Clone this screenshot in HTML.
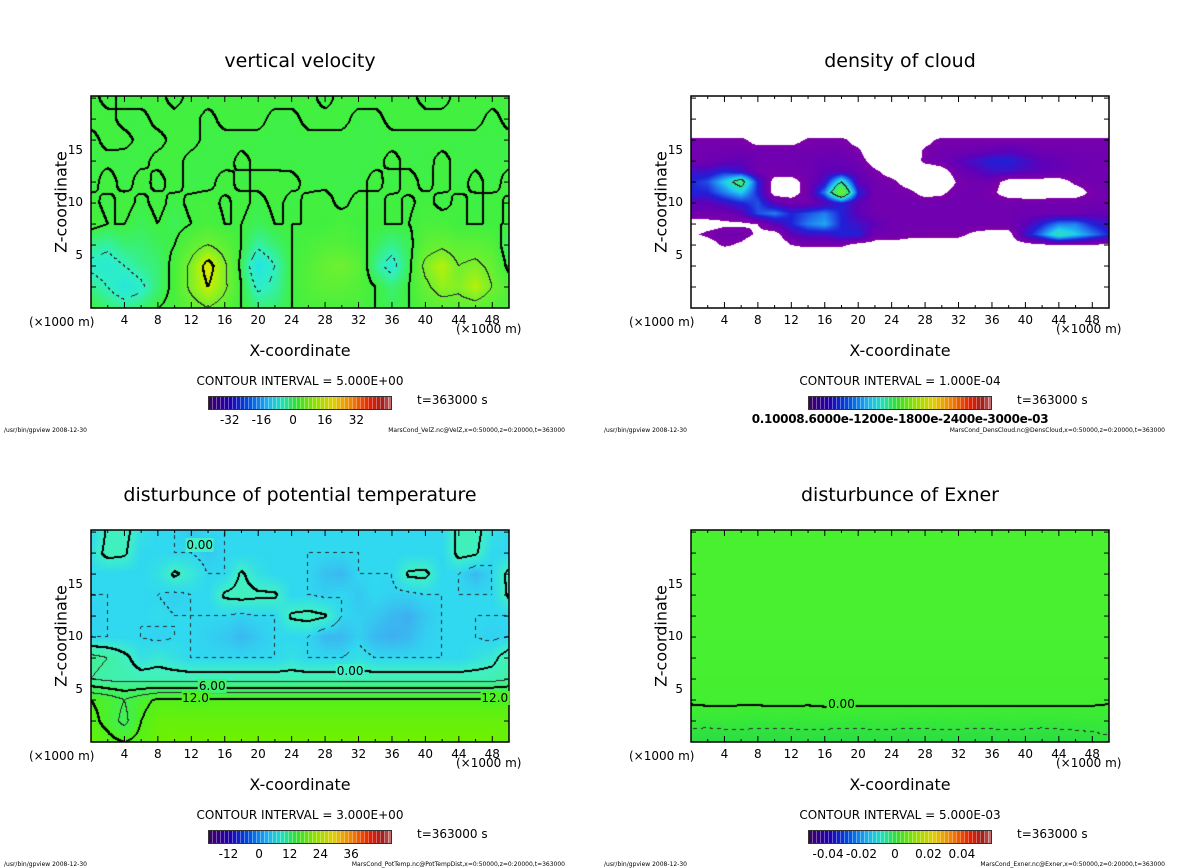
<!DOCTYPE html>
<html><head><meta charset="utf-8">
<style>
body{margin:0;background:#fff;}
#root{position:relative;width:1200px;height:868px;overflow:hidden;background:#fff;font-family:"DejaVu Sans","Liberation Sans",sans-serif;color:#000;}
.t{position:absolute;white-space:nowrap;}
.title{font-size:19px;transform:translateX(-50%);}
.ylab{font-size:16px;transform:translate(-50%,-50%) rotate(-90deg);}
.xlab{font-size:16px;transform:translateX(-50%);}
.tick{font-size:12px;}
.ci{font-size:12px;transform:translateX(-50%);}
.foot{font-size:6px;}
.clab{font-size:12px;background:transparent;}
canvas,svg{position:absolute;}
</style></head>
<body>
<div id="root"></div>
<script>
// ---------- data ----------
const xGrid = [0,2,4,6,8,10,12,14,16,18,20,22,24,26,28,30,32,34,36,38,40,42,44,46,48,50];
const zGrid2 = [0,2,4,6,8,10,12,14,16,18,20];
const zGrid1 = [0,1,2,3,4,5,6,7,8,9,10,11,12,13,14,15,16,17,18,19,20];
const xTicks = [4,8,12,16,20,24,28,32,36,40,44,48];
const zTicks = [5,10,15];

// vertical velocity rows (z = 0,2,...,20)
const velZ = [
 [0,-2,-3,-2,0,1,3,5,3,0,-2,-2,0,1,1,1,1,0,-1,0,2,3,3,3,2,1],
 [-3,-5,-8,-6,-2,1,6,10,6,0,-6,-4,0,2,3,3,2,0,-2,0,4,7,6,9,5,2],
 [-6,-7,-5,-3,-2,1,6,12,6,-1,-9,-5,0,2,4,5,3,-3,-7,-1,6,9,5,6,4,-1],
 [-3,-4,-2,-2,-1,0,3,5,3,0,-4,-2,0,1,2,2,1,-1,-3,-1,3,4,3,3,2,-2],
 [1,0,0,-1,0,-1,0,1,0,0,-1,0,0,0,0,1,0,0,0,0,1,1,0,0,0,0],
 [0.5,-0.5,0.6,-0.4,0.5,-0.5,0.4,0.6,-0.3,0.5,-0.5,0.4,-0.4,0.3,0.5,-0.4,0.5,-0.5,0.4,-0.3,0.5,-0.5,0.4,-0.4,0.5,-0.3],
 [-0.5,0.6,-0.5,0.5,-0.4,0.5,-0.5,-0.4,0.5,-0.4,0.4,0.4,0.3,-0.3,-0.3,-0.4,-0.4,0.4,-0.5,0.5,-0.4,0.5,-0.5,0.4,-0.5,0.5],
 [-0.3,-0.3,-0.4,-0.3,0.3,0.3,-0.3,-0.3,-0.4,0.3,-0.3,-0.3,-0.3,-0.3,-0.3,-0.3,-0.3,-0.3,0.3,-0.3,-0.3,0.3,-0.3,-0.3,-0.3,-0.3],
 [-0.3,0.3,0.3,-0.3,-0.3,0.3,0.3,-0.3,-0.3,-0.3,-0.3,-0.3,-0.3,-0.3,-0.3,-0.3,-0.3,-0.3,-0.3,-0.3,-0.3,-0.3,-0.3,-0.3,-0.3,-0.3],
 [0.3,0.3,-0.3,-0.3,0.3,0.3,0.3,-0.3,0.3,0.3,0.3,-0.3,-0.3,0.3,0.3,0.3,-0.3,-0.3,0.3,0.3,0.3,0.3,0.3,0.3,-0.3,0.3],
 [0.3,-0.3,0.3,0.3,0.3,-0.3,0.3,0.3,0.3,0.3,0.3,0.3,0.3,0.3,-0.3,0.3,0.3,0.3,0.3,0.3,-0.3,-0.3,0.3,0.3,0.3,0.3]
];

// cloud density (units 1e-4), rows z = 0..20 step 1
const densCloud = [
 Array(26).fill(0),Array(26).fill(0),Array(26).fill(0),Array(26).fill(0),Array(26).fill(0),Array(26).fill(0),
 [0,0.5,1.2,0.8,0,0,1,1.3,1.2,1.2,0.6,0.6,0.6,0.5,0.5,0.5,0.5,0.5,0.5,0.5,0.6,0.8,0.9,0.9,0.9,0.8],
 [0.8,1.2,1.5,1.5,0.8,0.5,2,2.5,2.5,3,3,1.5,1.5,1.3,1.2,1.2,1.2,0.8,0.6,0.6,2.5,4,6,5,4,3],
 [0.5,0.6,0.8,0.8,1,2,3,4,4.5,3,2.5,2,1.5,1.5,1.5,1.5,1.5,1.5,1.5,1.5,2,3,4,4,3,2.5],
 [1.5,1.5,1.5,2,3.5,4,3,3.5,4,3,2,1.5,1.5,1.5,1.5,1.5,1.5,1.5,1.5,1.5,1.6,1.6,1.6,1.6,1.8,1.8],
 [2,2,2.5,3,3.5,2,1.5,1.5,2,3,2,1.5,1.5,1.5,1.5,1.5,1.5,1.5,1.5,1.5,1.5,1.5,1.5,1.5,1.5,1.5],
 [3,3,4,5,3,0.5,0.5,1.5,4,9,3,1.5,1.5,1.3,0.6,0.8,1.5,1.5,1.2,0.5,0.3,0.3,0.5,0.5,1.2,1.5],
 [3,3.5,5,7,3,0.5,0.5,1.5,2.5,6,2,1.5,1.3,0.5,0,0,1.2,1.5,1.5,0.5,0.5,0.5,0.5,1.2,1.5,1.5],
 [2.5,2.5,3,2.5,1.5,1.5,1.5,1.5,2,2,1.8,1.2,0.5,0,0,0.5,1.6,2,2.5,2.5,2.2,2,1.8,1.6,1.5,1.5],
 [1.5,1.5,1.8,2,1.5,1.5,1.5,1.6,1.8,1.8,1.5,0.5,0,0,1.3,1.6,2,2.5,3,3,2.5,2,1.8,1.6,1.5,1.5],
 [1.5,1.5,1.5,1.5,1.5,1.5,1.5,1.5,1.5,1.5,1.2,0,0,0,1.2,1.5,1.5,1.6,1.8,2,1.8,1.5,1.5,1.5,1.5,1.5],
 [1.3,1.3,1.3,1.3,0.5,0.5,0.5,1.2,1.3,1.3,0.5,0,0,0,0.6,1.3,1.3,1.3,1.3,1.3,1.3,1.3,1.3,1.3,1.3,1.3],
 Array(26).fill(0),Array(26).fill(0),Array(26).fill(0),Array(26).fill(0)
];

// potential temperature disturbance rows (z = 0,2,...,20)
const potTemp = [
 [14,13,12,13,14.5,15,15,15,15,15,15,15,15,15,15,15,15,15,15,15,15,15,15,15,15,14],
 [13,11,8,12,14,14,14,14,14,14,14,14,14,14,14,14,14,14,14,14,14,14,14,14,14,14],
 [12,11,9,11,12.5,12.5,12.5,12.5,12.5,12.5,12.5,12.5,12.5,12.5,12.5,12.5,12.5,12.5,12.5,12.5,12.5,12.5,12.5,12.5,12.5,12.5],
 [3,2,2,1.5,1.5,1.5,1.5,1.5,1.5,1.5,1.5,1.5,1.5,1.5,1.5,1.5,1.5,1.5,1.5,1.5,1.5,1.5,1.5,1.5,1.5,2.5],
 [4,3,1,-2,-1,-2,-3,-3,-3,-3,-3,-3,-2,-3,-3,-3,-2,-3,-3,-3,-3,-3,-3,-2,-1,2],
 [-3,-3,-3,-3,-3.5,-3,-3,-3.5,-4,-5,-4,-3,-3,-3,-5,-5,-3.5,-5,-5.5,-5,-3.5,-3,-3,-3,-3.5,-3],
 [-3.5,-3,-3,-3,-2.5,-3,-3,-3,-3,-3.5,-3,-3,0.5,1,0.3,-3,-3.5,-4,-5,-5.5,-4,-3,-3,-3,-3,-3],
 [-3,-3,-3,-3,-3,-3.5,-3,-3,0.5,1,0.5,0.5,-3,-3,-3.5,-3,-4,-3,-3.5,-3.5,-3,-3,-3,-3,-3,0.5],
 [-3,-3,-3,-3,-2,0.5,-1,-3,-3,0.5,-2,-3,-3,-3,-4.5,-5,-3,-3,-3,0.5,0.8,-3,-3,-5,-3,1],
 [-2,1,0.5,-3,-3,-3,-3,-4,-3,-3,-3,-3,-3,-3,-3,-3,-3,-3,-3,-3,-3,-3,1,0.5,-3,-3],
 [-3,0.5,1,-2,-3,-3,-4,-3,-3,-3,-3,-3,-3,-3,-3,-3,-3,-3,-3,-3,-3,-3,1,1,-2,-3]
];

// Exner disturbance rows (z = 0,2,...,20)
const exner = [
 [-0.008,-0.0085,-0.008,-0.0075,-0.008,-0.0085,-0.008,-0.0075,-0.008,-0.0085,-0.008,-0.0075,-0.008,-0.0085,-0.008,-0.0075,-0.008,-0.0085,-0.008,-0.0075,-0.008,-0.0085,-0.008,-0.0075,-0.007,-0.006],
 [-0.003,-0.0032,-0.0028,-0.003,-0.0033,-0.0029,-0.003,-0.0032,-0.0028,-0.003,-0.0033,-0.003,-0.0028,-0.0031,-0.003,-0.0032,-0.0029,-0.003,-0.0031,-0.0029,-0.003,-0.0031,-0.003,-0.0029,-0.0027,-0.0025],
 [0.0008,0.0012,0.0012,0.0010,0.0011,0.0012,0.0012,0.0011,0.0013,0.0012,0.0012,0.0011,0.0012,0.0012,0.0013,0.0012,0.0012,0.0013,0.0012,0.0012,0.0011,0.0012,0.0012,0.0011,0.0010,0.0006],
 Array(26).fill(0.002),Array(26).fill(0.0025),Array(26).fill(0.0028),Array(26).fill(0.003),
 Array(26).fill(0.003),Array(26).fill(0.0032),Array(26).fill(0.0033),Array(26).fill(0.0034)
];

const cbLabels1 = ["-32","-16","0","16","32"];
const cbValues1 = [-32,-16,0,16,32];
const cbLabels3 = ["-12","0","12","24","36"];
const cbValues3 = [-12,0,12,24,36];
const cbLabels4 = ["-0.04","-0.02","0","0.02","0.04"];
const cbValues4 = [-0.04,-0.02,0,0.02,0.04];

// ---------- helpers ----------
const root = document.getElementById('root');
function hex(h){return [parseInt(h.substr(1,2),16),parseInt(h.substr(3,2),16),parseInt(h.substr(5,2),16)];}
function cmap(stops,v){
  if(v<=stops[0][0]) return hex(stops[0][1]);
  for(let i=1;i<stops.length;i++){
    if(v<=stops[i][0]){
      const a=hex(stops[i-1][1]),b=hex(stops[i][1]);
      const t=(v-stops[i-1][0])/(stops[i][0]-stops[i-1][0]);
      return [a[0]+(b[0]-a[0])*t,a[1]+(b[1]-a[1])*t,a[2]+(b[2]-a[2])*t];
    }
  }
  return hex(stops[stops.length-1][1]);
}
function text(str,cls,x,y,name){
  const d=document.createElement('div');
  d.className='t '+cls;
  d.style.left=x+'px';d.style.top=y+'px';
  d.textContent=str;
  
  
  root.appendChild(d);
  return d;
}
function sample(grid,xs,zs,x,z){
  const dx=xs[1]-xs[0],dz=zs[1]-zs[0];
  let gx=(x-xs[0])/dx, gz=(z-zs[0])/dz;
  gx=Math.max(0,Math.min(xs.length-1.0001,gx));
  gz=Math.max(0,Math.min(zs.length-1.0001,gz));
  const i=Math.floor(gx),j=Math.floor(gz),fx=gx-i,fz=gz-j;
  const a=grid[j][i],b=grid[j][i+1],c=grid[j+1][i],d=grid[j+1][i+1];
  return (a*(1-fx)+b*fx)*(1-fz)+(c*(1-fx)+d*fx)*fz;
}

const PW=418, PH=212, ZMAX=20.2, XMAX=50;
function panel(cfg){
  const L=cfg.L,T=cfg.T;
  const sx=x=>L+x*PW/XMAX, sz=z=>T+(ZMAX-z)*PH/ZMAX;
  const cv=document.createElement('canvas');
  cv.width=PW;cv.height=PH;cv.style.left=L+'px';cv.style.top=T+'px';
  
  
  root.appendChild(cv);
  const ctx=cv.getContext('2d');
  const img=ctx.createImageData(PW,PH);
  const vals=new Float64Array(PW*PH);
  for(let py=0;py<PH;py++)for(let px=0;px<PW;px++){
    const x=(px+0.5)/PW*XMAX, z=ZMAX-(py+0.5)/PH*ZMAX;
    vals[py*PW+px]=sample(cfg.grid,xGrid,cfg.zs,x,z);
  }
  for(let k=0;k<PW*PH;k++){
    const v=vals[k];
    let c = (cfg.mask!==undefined && v<cfg.mask)?[255,255,255]:cmap(cfg.stops,v);
    img.data[k*4]=c[0];img.data[k*4+1]=c[1];img.data[k*4+2]=c[2];img.data[k*4+3]=255;
  }
  const iv=cfg.interval;
  const lev=k=>Math.floor(vals[k]/iv+1e-9);
  function paint(px,py,col){
    if(px<0||py<0||px>=PW||py>=PH)return;
    const k=py*PW+px;img.data[k*4]=col;img.data[k*4+1]=col;img.data[k*4+2]=col;
  }
  for(let py=0;py<PH-1;py++)for(let px=0;px<PW-1;px++){
    const k=py*PW+px;
    const a=lev(k),b=lev(k+1),c=lev(k+PW);
    if(a!==b||a!==c){
      const m=Math.max(a,b,c);
      const Lv=m*iv;
      if(!cfg.draw(Lv))continue;
      if(Lv<-1e-12 && ((px+py)>>2)%2)continue;
      const th=cfg.thick(Lv);
      const col=th?0:40;
      paint(px,py,col);
      if(th){paint(px+1,py,col);paint(px,py+1,col);}
    }
  }
  ctx.putImageData(img,0,0);

  const ns='http://www.w3.org/2000/svg';
  const svg=document.createElementNS(ns,'svg');
  svg.setAttribute('width',1200);svg.setAttribute('height',868);
  svg.style.left='0px';svg.style.top='0px';
  
  
  let s=`<rect x="${L}" y="${T}" width="${PW}" height="${PH}" fill="none" stroke="#000" stroke-width="1.5"/>`;
  for(let x=2;x<XMAX;x+=2){const X=sx(x),len=(x%4===0)?6:3;
    s+=`<line x1="${X}" y1="${T+PH}" x2="${X}" y2="${T+PH-len}" stroke="#000"/><line x1="${X}" y1="${T}" x2="${X}" y2="${T+len}" stroke="#000"/>`;}
  for(let z=2;z<ZMAX;z+=2){const Y=sz(z);
    s+=`<line x1="${L}" y1="${Y}" x2="${L+5}" y2="${Y}" stroke="#000"/><line x1="${L+PW}" y1="${Y}" x2="${L+PW-5}" y2="${Y}" stroke="#000"/>`;}
  svg.innerHTML=s;
  root.appendChild(svg);

  xTicks.forEach(x=>{const d=text(String(x),'tick',sx(x),T+PH+5,'x-tick-label');d.style.transform='translateX(-50%)';});
  zTicks.forEach(z=>{const d=text(String(z),'tick',L-8,sz(z)-8,'y-tick-label');d.style.transform='translateX(-100%)';});
  const cx=L+PW/2;
  text(cfg.title,'title',cx,T-46,cfg.name+'-title');
  text('Z-coordinate','ylab',L-30,T+PH/2,'y-axis-title');
  text('X-coordinate','xlab',cx,T+245,'x-axis-title');
  text('(\u00d71000 m)','tick',L-62,T+219,'x-unit-left');
  text('(\u00d71000 m)','tick',L+365,T+226,'x-unit-right');
  text(cfg.ci,'ci',cx,T+278,'contour-interval-label');
  text('t=363000 s','tick',L+326,T+297,'time-label');
  text('/usr/bin/gpview  2008-12-30','foot',L-87,T+331,'footer-program');
  const f=text(cfg.file,'foot',L+474,T+331,'footer-file');f.style.transform='translateX(-100%)';

  const cb=document.createElementNS(ns,'svg');
  const cbL=L+117,cbW=184,cbT=T+300,cbH=14;
  cb.setAttribute('width',cbW);cb.setAttribute('height',cbH);
  cb.style.left=cbL+'px';cb.style.top=cbT+'px';
  
  
  const barStops=[[0,'#400060'],[0.12,'#2000b0'],[0.22,'#0050e0'],[0.32,'#20b0f0'],[0.4,'#20e0c0'],[0.48,'#30e030'],[0.58,'#90e000'],[0.68,'#e0d000'],[0.78,'#f08000'],[0.88,'#e02000'],[0.95,'#a02020'],[1,'#d08080']];
  let cs='';const n=46;
  for(let i=0;i<n;i++){const c=cmap(barStops,(i+0.5)/n).map(Math.round);
    cs+=`<rect x="${i*cbW/n}" y="0" width="${cbW/n}" height="${cbH}" fill="rgb(${c})"/>`;
    cs+=`<line x1="${i*cbW/n+0.5}" y1="0" x2="${i*cbW/n+0.5}" y2="${cbH}" stroke="rgba(255,255,255,0.35)"/>`;}
  cs+=`<rect x="0.5" y="0.5" width="${cbW-1}" height="${cbH-1}" fill="none" stroke="#333"/>`;
  cb.innerHTML=cs;root.appendChild(cb);
  if(cfg.cbVals){
    cfg.cbVals.forEach((v,i)=>{const X=cbL+(v-cfg.cbMin)/(cfg.cbMax-cfg.cbMin)*cbW;
      const d=text(cfg.cbLabs[i],'tick',X,cbT+17,'colorbar-tick-label');d.style.transform='translateX(-50%)';});
  } else {
    const d=text('0.10008.6000e-1200e-1800e-2400e-3000e-03','tick',cbL+cbW/2,cbT+16,'colorbar-tick-label');
    d.style.transform='translateX(-50%)';d.style.fontWeight='bold';d.style.letterSpacing='-0.3px';
  }
  (cfg.labels||[]).forEach(lb=>{
    const d=text(lb.s,'clab',sx(lb.x),sz(lb.z)-8,'contour-label');
    d.style.background=lb.bg;d.style.padding='0 1px';d.style.transform='translateX(-50%)';
  });
}

panel({name:'vertical-velocity',title:'vertical velocity',L:91,T:96,grid:velZ,zs:zGrid2,interval:5,
  stops:[[-10,'#20e0f0'],[-5,'#30f0c0'],[0,'#40f040'],[5,'#70f030'],[10,'#c8f000'],[14,'#f0e000']],
  draw:L=>true,thick:L=>Math.abs(L)<1e-9||Math.abs(L)>=10,
  ci:'CONTOUR INTERVAL = 5.000E+00',file:'MarsCond_VelZ.nc@VelZ,x=0:50000,z=0:20000,t=363000',
  cbVals:cbValues1,cbLabs:cbLabels1,cbMin:-43,cbMax:50});

panel({name:'density-of-cloud',title:'density of cloud',L:691,T:96,grid:densCloud,zs:zGrid1,interval:6,mask:1,
  stops:[[1,'#8000a8'],[2,'#6000b8'],[3,'#2020d8'],[4,'#2080f0'],[5,'#20d0f0'],[7,'#40f060'],[9,'#70f020']],
  draw:L=>L>=6,thick:L=>false,
  ci:'CONTOUR INTERVAL = 1.000E-04',file:'MarsCond_DensCloud.nc@DensCloud,x=0:50000,z=0:20000,t=363000'});

panel({name:'potential-temperature',title:'disturbunce of potential temperature',L:91,T:530,grid:potTemp,zs:zGrid2,interval:3,
  stops:[[-6,'#40a8f0'],[-3,'#30d8f0'],[0,'#40f0c8'],[3,'#40f0a0'],[6,'#40f070'],[9,'#40f050'],[12,'#50f020'],[15,'#70f000']],
  draw:L=>true,thick:L=>Math.abs(L/6-Math.round(L/6))<1e-9 && L>=0,
  ci:'CONTOUR INTERVAL = 3.000E+00',file:'MarsCond_PotTemp.nc@PotTempDist,x=0:50000,z=0:20000,t=363000',
  cbVals:cbValues3,cbLabs:cbLabels3,cbMin:-20,cbMax:52,
  labels:[{s:'0.00',x:13,z:18.7,bg:'#40f0c8'},{s:'0.00',x:31,z:6.7,bg:'#40f0c8'},{s:'6.00',x:14.5,z:5.2,bg:'#40f070'},{s:'12.0',x:12.5,z:4.1,bg:'#50f020'},{s:'12.0',x:48.3,z:4.1,bg:'#50f020'}]});

panel({name:'exner',title:'disturbunce of Exner',L:691,T:530,grid:exner,zs:zGrid2,interval:0.005,
  stops:[[-0.01,'#28d848'],[-0.004,'#34e63c'],[0,'#40ee30'],[0.003,'#48f030']],
  draw:L=>true,thick:L=>Math.abs(L)<1e-9,
  ci:'CONTOUR INTERVAL = 5.000E-03',file:'MarsCond_Exner.nc@Exner,x=0:50000,z=0:20000,t=363000',
  cbVals:cbValues4,cbLabs:cbLabels4,cbMin:-0.052,cbMax:0.058,
  labels:[{s:'0.00',x:18,z:3.5,bg:'#40ee30'}]});
</script>
</body></html>
